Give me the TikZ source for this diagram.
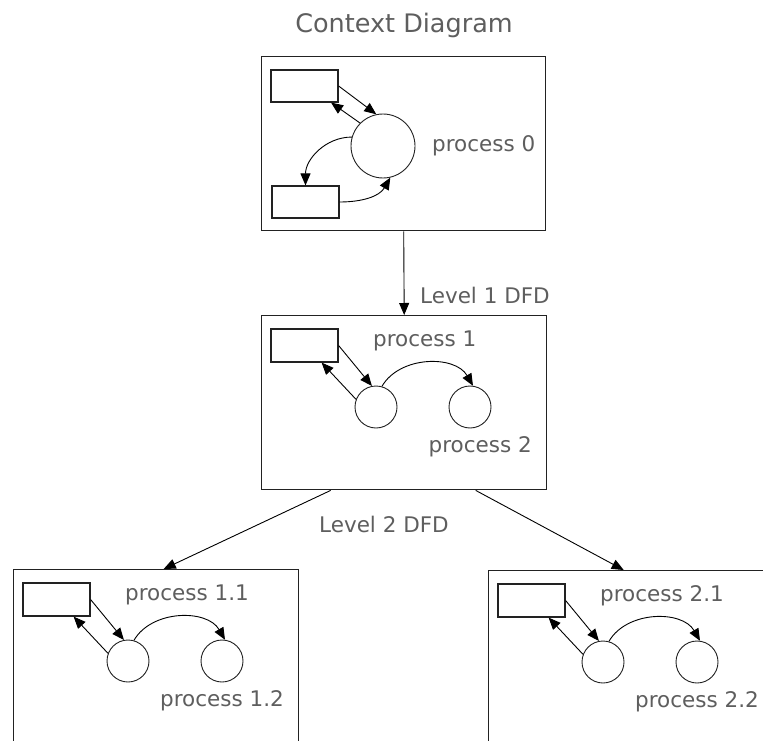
\documentclass[tikz,border=0pt]{standalone}
\usepackage{fontspec}
\setmainfont{DejaVu Sans}
\usetikzlibrary{arrows.meta,calc}

\definecolor{txt}{HTML}{5E5E5E}
\definecolor{edge}{HTML}{222222}

\tikzset{
  panel/.style={draw=edge, line width=1.4pt, fill=white, inner sep=0pt,
                minimum width=285, minimum height=174},
  store/.style={draw=edge, line width=1.2pt, inner sep=0pt,
                minimum width=67, minimum height=33},
  proc/.style={draw=edge, line width=0.9pt, circle, inner sep=0pt},
  lbl/.style={text=txt, inner sep=0pt, font=\fontsize{21.5}{24}\selectfont},
  flow/.style={draw=black, line width=0.9pt, -{Triangle[length=12pt,width=10pt]}},
}

% One refined level: a data store and two processes inside a panel.
% #1 name prefix, #2/#3 top-left corner of the panel, #4 upper label, #5 lower label
\newcommand{\dfdpanel}[5]{%
  \node[panel, anchor=north west] (#1) at (#2,#3) {};
  \begin{scope}[shift={(#2,#3)}]
    \node[store] (#1r) at (43.5,30.5) {};
    \node[proc, minimum size=42] (#1a) at (115,92) {};
    \node[proc, minimum size=42] (#1b) at (209,92) {};
    \node[lbl, anchor=base west] (#1u) at (112,31) {#4};
    \node[lbl, anchor=base east] (#1d) at (271,137) {#5};
  \end{scope}
  \draw[flow] (#1r.east) -- (#1a.101);
  \draw[flow] (#1a.159) -- (#1r.-45);
  \draw[flow] (#1a.74) to[out=60,in=120] (#1b.82);
}

\begin{document}
\begin{tikzpicture}[x=1pt,y=-1pt]
  \useasboundingbox (0,0) rectangle (763,741);
  \clip (0,0) rectangle (763,741);

  % title
  \node[lbl, font=\fontsize{25.5}{28}\selectfont, anchor=base] (title) at (404,33) {Context Diagram};

  % context diagram
  \node[panel, anchor=north west, minimum width=284] (ctx) at (261,56) {};
  \node[store, minimum height=32] (s0a) at (304.5,86) {};
  \node[store, minimum height=32] (s0b) at (305.5,202) {};
  \node[proc, minimum size=64] (p0) at (383,146) {};
  \node[lbl, anchor=base west] (p0l) at (432,152) {process 0};
  \draw[flow] (s0a.east) -- (p0.102);
  \draw[flow] (p0.135) -- (s0a.-32);
  \draw[flow] (p0.164) to[out=180,in=90] (s0b.north);
  \draw[flow] (s0b.east) to[out=0,in=-120] (p0.-77);

  % level 1
  \dfdpanel{lv1}{261}{315}{process 1}{process 2}
  \draw[flow] (ctx.south) -- (lv1.north);
  \node[lbl, anchor=base west] (lv1t) at (420,303) {Level 1 DFD};

  % level 2
  \dfdpanel{lvA}{13}{569}{process 1.1}{process 1.2}
  \dfdpanel{lvB}{488}{570}{process 2.1}{process 2.2}
  \node[lbl, anchor=base west] (lv2t) at (319,532) {Level 2 DFD};
  \draw[flow] ($(lv1.south)+(-73.5,0)$) -- ($(lvA.north)+(7.5,0)$);
  \draw[flow] ($(lv1.south)+(71.5,0)$) -- ($(lvB.north)+(-7.5,0)$);
\end{tikzpicture}
\end{document}
